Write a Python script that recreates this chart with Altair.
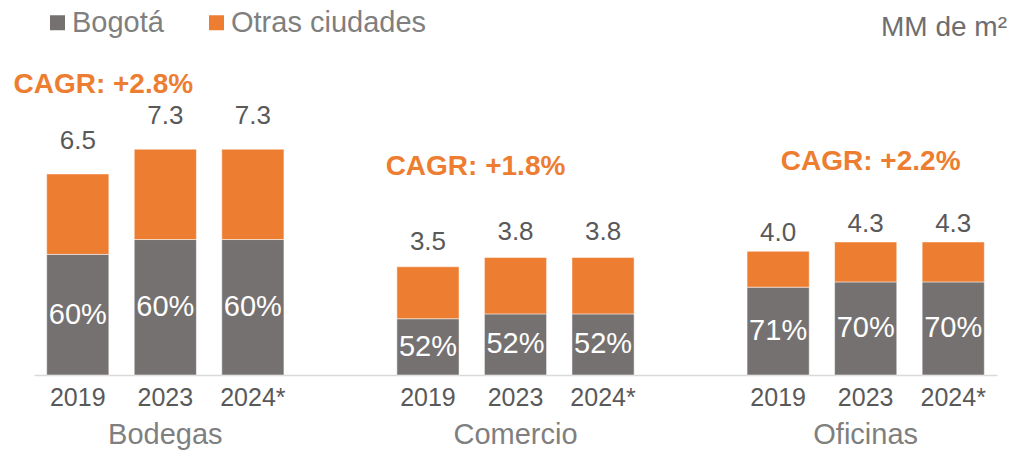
import altair as alt
import pandas as pd

# ---- data ----
groups = ["Bodegas", "Comercio", "Oficinas"]
years = ["2019", "2023", "2024*"]
totals_bodegas = [6.5, 7.3, 7.3]
totals_comercio = [3.5, 3.8, 3.8]
totals_oficinas = [4.0, 4.3, 4.3]
pct_bodegas = [60, 60, 60]
pct_comercio = [52, 52, 52]
pct_oficinas = [71, 70, 70]
cagr_labels = ["CAGR: +2.8%", "CAGR: +1.8%", "CAGR: +2.2%"]
series = ["Bogotá", "Otras ciudades"]
unit_label = "MM de m²"

totals = [totals_bodegas, totals_comercio, totals_oficinas]
pcts = [pct_bodegas, pct_comercio, pct_oficinas]

GRAY = "#767171"
ORANGE = "#ED7D31"
FONT = "Liberation Sans"

# slot domain with spacer slots between groups
domain = []
for gi, g in enumerate(groups):
    for y in years:
        domain.append(f"{g}|{y}")
    if gi < len(groups) - 1:
        domain.append(f"gap{gi}")

rows_long = []
rows_wide = []
for gi, g in enumerate(groups):
    for yi, y in enumerate(years):
        slot = f"{g}|{y}"
        tot = totals[gi][yi]
        p = pcts[gi][yi]
        bog = tot * p / 100.0
        rows_long.append({"slot": slot, "serie": series[0], "value": bog, "ord": 0})
        rows_long.append({"slot": slot, "serie": series[1], "value": tot - bog, "ord": 1})
        rows_wide.append({"slot": slot, "group": g, "total": tot, "bog": bog,
                          "pct": f"{p}%", "tot_label": f"{tot:.1f}"})

long_df = pd.DataFrame(rows_long)
wide_df = pd.DataFrame(rows_wide)

W, H = 963, 365
yscale = alt.Scale(domain=[0, 11.8], nice=False)
xscale = alt.Scale(domain=domain, paddingInner=0.29, paddingOuter=0.145)

x_enc = alt.X("slot:N", scale=xscale, sort=domain, title=None,
              axis=alt.Axis(labelExpr="indexof(datum.label, '|') >= 0 ? split(datum.label, '|')[1] : ''",
                            labelAngle=0, ticks=False, domainColor="#D9D9D9", domainWidth=1.5,
                            labelFontSize=25, labelColor="#595959", labelPadding=10, labelFont=FONT))

bars = alt.Chart(long_df).mark_bar(stroke="white", strokeWidth=0.5).encode(
    x=x_enc,
    y=alt.Y("value:Q", stack="zero", scale=yscale, axis=None),
    color=alt.Color("serie:N", scale=alt.Scale(domain=series, range=[GRAY, ORANGE]),
                    legend=alt.Legend(title=None, orient="none", legendX=9, legendY=-2,
                                      direction="horizontal", symbolType="square", symbolSize=225,
                                      symbolStrokeWidth=0, labelFontSize=29, labelColor="#7F7F7F",
                                      labelFont=FONT, labelOffset=0, columnPadding=38, padding=0,
                                      labelLimit=400)),
    order=alt.Order("ord:Q"),
)

pct_text = alt.Chart(wide_df).transform_calculate(mid="datum.bog / 2").mark_text(
    font=FONT, fontSize=29, color="white", baseline="middle").encode(
    x=alt.X("slot:N", scale=xscale, sort=domain),
    y=alt.Y("mid:Q", scale=yscale),
    text="pct:N",
)

layers = [bars, pct_text]

total_dy = {"Bodegas": -33, "Comercio": -25, "Oficinas": -18}
for g in groups:
    layers.append(alt.Chart(wide_df).transform_filter(alt.datum.group == g).mark_text(
        font=FONT, fontSize=26, color="#595959", baseline="middle", dy=total_dy[g]).encode(
        x=alt.X("slot:N", scale=xscale, sort=domain),
        y=alt.Y("total:Q", scale=yscale),
        text="tot_label:N",
    ))

cagr_off = {"Bodegas": (-62, -64), "Comercio": (-40, -90), "Oficinas": (5, -80)}
for gi, g in enumerate(groups):
    cdf = pd.DataFrame({"slot": [f"{g}|{years[1]}"], "ymax": [max(totals[gi])], "label": [cagr_labels[gi]]})
    dx, dy = cagr_off[g]
    layers.append(alt.Chart(cdf).mark_text(
        font=FONT, fontSize=28, fontWeight="bold", color=ORANGE, baseline="middle", dx=dx, dy=dy).encode(
        x=alt.X("slot:N", scale=xscale, sort=domain),
        y=alt.Y("ymax:Q", scale=yscale),
        text="label:N",
    ))

gdf = pd.DataFrame({"slot": [f"{g}|{years[1]}" for g in groups], "group": groups})
layers.append(alt.Chart(gdf).mark_text(
    font=FONT, fontSize=29, color="#7F7F7F", baseline="middle").encode(
    x=alt.X("slot:N", scale=xscale, sort=domain),
    y=alt.value(H + 60),
    text="group:N",
))

udf = pd.DataFrame({"label": [unit_label]})
layers.append(alt.Chart(udf).mark_text(
    font=FONT, fontSize=28, color="#6E6E6E", baseline="middle", align="right").encode(
    x=alt.value(W + 10),
    y=alt.value(18),
    text="label:N",
))

chart = alt.layer(*layers).properties(
    width=W, height=H,
    autosize=alt.AutoSizeParams(type="none"),
    padding={"left": 26, "right": 10, "top": 2, "bottom": 75},
).configure(font=FONT, view=alt.ViewConfig(stroke=None))

chart.save("out.html", embed_options={"renderer": "svg", "actions": False})
